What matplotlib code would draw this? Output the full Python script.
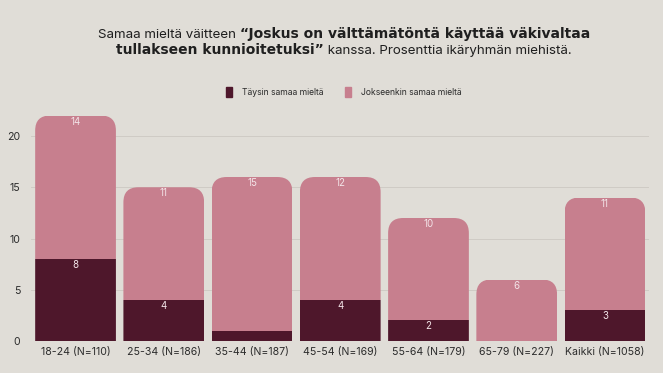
import matplotlib.pyplot as plt
from matplotlib.patches import FancyBboxPatch, Patch
from matplotlib.offsetbox import TextArea, HPacker, AnnotationBbox

# data
groups = ['18-24 (N=110)', '25-34 (N=186)', '35-44 (N=187)', '45-54 (N=169)',
          '55-64 (N=179)', '65-79 (N=227)', 'Kaikki (N=1058)']
taysin = [8, 4, 1, 4, 2, 0, 3]
jokseenkin = [14, 11, 15, 12, 10, 6, 11]
series_names = ['Täysin samaa mieltä', 'Jokseenkin samaa mieltä']
yticks = [0, 5, 10, 15, 20]

BG = '#e0ddd7'
DARK = '#4e172b'
PINK = '#c77f8e'
LABEL = '#f3e4e8'

plt.rcParams['font.family'] = ['Inter', 'DejaVu Sans']

fig = plt.figure(figsize=(6.63, 3.73), dpi=100, facecolor=BG)
ax = fig.add_axes([0.0474, 0.0858, 0.9316, 0.632])
ax.set_facecolor(BG)

x = list(range(len(groups)))
ax.set_xlim(-0.5, len(groups) - 0.5)
ax.set_ylim(0, 23)

w = 0.915
b1 = ax.bar(x, taysin, width=w, color=DARK, zorder=3)
b2 = ax.bar(x, jokseenkin, bottom=taysin, width=w, color=PINK, zorder=2)

# rounded top corners: clip each bar to a rounded box
fig.canvas.draw()
p0 = ax.transData.transform((0, 0))
p1 = ax.transData.transform((1, 1))
px_x = p1[0] - p0[0]
px_y = p1[1] - p0[1]
r_px = 15
aspect = px_x / px_y
for i in range(len(groups)):
    top = taysin[i] + jokseenkin[i]
    clip = FancyBboxPatch((i - w / 2, -3), w, top + 3,
                          boxstyle='round,pad=0,rounding_size=%f' % (r_px / px_x),
                          mutation_aspect=aspect, transform=ax.transData)
    b1[i].set_clip_path(clip)
    b2[i].set_clip_path(clip)

# value labels
off = 6 / px_y
for i in range(len(groups)):
    if taysin[i] >= 2:
        ax.text(i, taysin[i] - off, str(taysin[i]), ha='center', va='center',
                fontsize=7, color=LABEL, zorder=5)
    top = taysin[i] + jokseenkin[i]
    ax.text(i, top - off, str(jokseenkin[i]), ha='center', va='center',
            fontsize=7, color=LABEL, zorder=5)

ax.set_yticks(yticks)
ax.set_xticks(x)
ax.set_xticklabels(groups)
ax.tick_params(length=0, labelsize=7.6, colors='#2b2b2b')
ax.tick_params(axis='x', pad=4)
ax.tick_params(axis='y', pad=8)
ax.grid(axis='y', color='#ccc8c2', linewidth=0.6, zorder=0)
ax.set_axisbelow(True)
for s in ax.spines.values():
    s.set_visible(False)

# legend
handles = [Patch(color=DARK), Patch(color=PINK)]
fig.legend(handles, series_names, loc='center', bbox_to_anchor=(0.518, 0.753),
           ncol=2, frameon=False, fontsize=6.2, handlelength=0.75, handleheight=1.3,
           columnspacing=2.5, handletextpad=1.1, labelcolor='#2b2b2b')

# title with mixed weights
def title_line(parts, y):
    boxes = []
    for t, fw in parts:
        if fw == 'bold':
            props = dict(fontsize=10, color='#1f1f1f', fontweight='bold', family='DejaVu Sans')
        else:
            props = dict(fontsize=9.6, color='#1f1f1f')
        boxes.append(TextArea(t, textprops=props))
    pack = HPacker(children=boxes, align='baseline', pad=0, sep=0)
    ab = AnnotationBbox(pack, (0.519, y), xycoords='figure fraction', frameon=False,
                        box_alignment=(0.5, 0.5))
    fig.add_artist(ab)

title_line([('Samaa mieltä väitteen ', 'normal'),
            ('“Joskus on välttämätöntä käyttää väkivaltaa', 'bold')], 1 - 34 / 373)
title_line([('tullakseen kunnioitetuksi”', 'bold'),
            (' kanssa. Prosenttia ikäryhmän miehistä.', 'normal')], 1 - 50 / 373)

fig.savefig('out.png', dpi=100, facecolor=BG)
